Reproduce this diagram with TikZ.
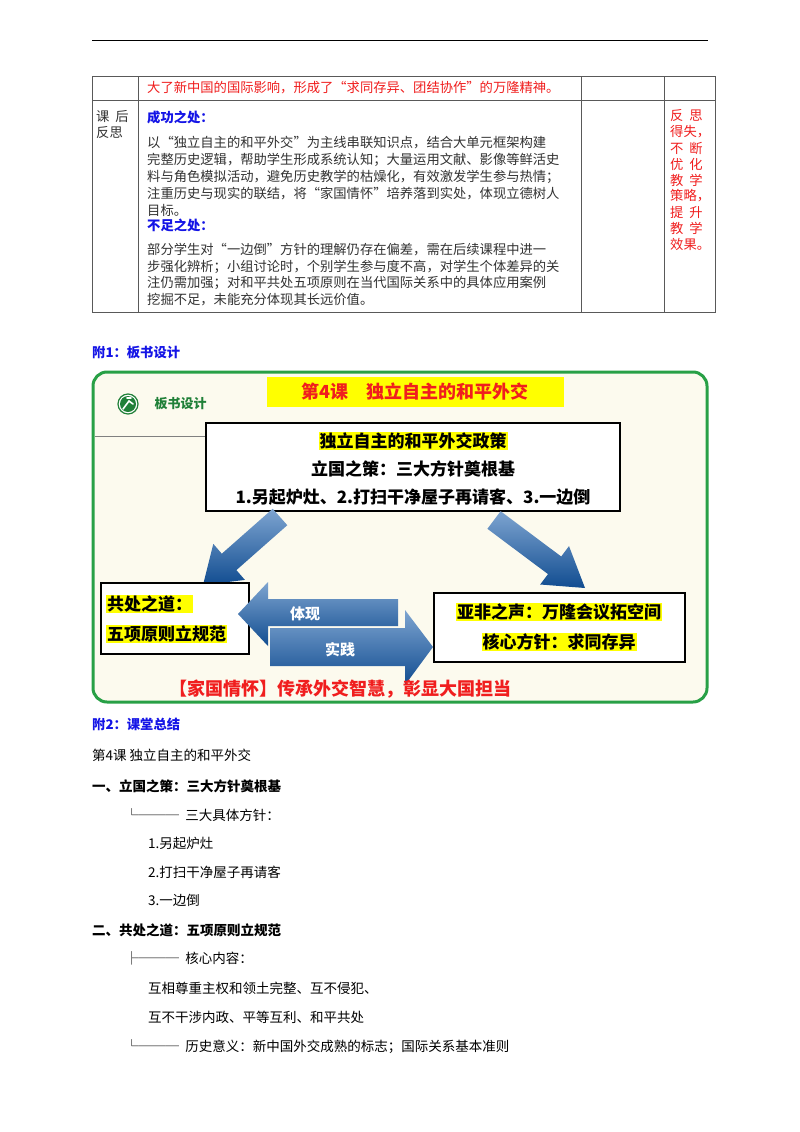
\documentclass[tikz,border=0pt]{standalone}
\usepackage{fontspec}
\setmainfont{Noto Sans CJK SC}
\definecolor{rd}{RGB}{240,30,30}
\definecolor{bl}{RGB}{20,20,230}
\definecolor{tx}{RGB}{50,50,50}
\definecolor{cream}{RGB}{252,250,238}
\definecolor{frm}{RGB}{40,160,70}
\definecolor{ab}{RGB}{20,90,170}
\definecolor{yl}{RGB}{255,255,0}
\tikzset{
 t/.style={anchor=west,inner sep=0,font=\fontsize{13.3}{15}\selectfont,text=tx},
 h/.style={anchor=west,inner sep=0,font=\fontsize{13.3}{15}\selectfont\bfseries,text=bl},
 r/.style={anchor=west,inner sep=0,font=\fontsize{13.3}{15}\selectfont,text=rd},
 b/.style={anchor=center,inner sep=1pt,font=\fontsize{17}{19}\selectfont\bfseries,text=black},
 bx/.style={draw=black,line width=1.8pt,fill=white},
 s/.style={anchor=west,inner sep=0,font=\fontsize{13.5}{15}\selectfont,text=black},
 sb/.style={anchor=west,inner sep=0,font=\fontsize{13.5}{15}\selectfont\bfseries,text=black},
 arw/.style={top color=ab!55!white,bottom color=ab!85!black},
}
\begin{document}
\begin{tikzpicture}[x=1pt,y=-1pt]
\useasboundingbox (0,0) rectangle (800,1132);
\fill[white] (0,0) rectangle (800,1132);
\draw[line width=0.8pt] (92,40) -- (708,40);
% table
\draw[gray!70!black,line width=0.6pt] (92,76) rectangle (715,312);
\draw[gray!70!black,line width=0.6pt] (92,100) -- (715,100);
\foreach \x in {138,581,664} \draw[gray!70!black,line width=0.6pt] (\x,76) -- (\x,312);
\node[r] (l0) at (147,88) {大了新中国的国际影响，形成了“求同存异、团结协作”的万隆精神。};
\node[t] (k1) at (96,117) {课\ \ 后};
\node[t] (k2) at (96,133) {反思};
\node[h] (cg) at (147,117) {成功之处：};
\node[t] (a1) at (147,143) {以“独立自主的和平外交”为主线串联知识点，结合大单元框架构建};
\node[t] (a2) at (147,160) {完整历史逻辑，帮助学生形成系统认知；大量运用文献、影像等鲜活史};
\node[t] (a3) at (147,177) {料与角色模拟活动，避免历史教学的枯燥化，有效激发学生参与热情；};
\node[t] (a4) at (147,194) {注重历史与现实的联结，将“家国情怀”培养落到实处，体现立德树人};
\node[t] (a5) at (147,210) {目标。};
\node[h] (bz) at (147,225) {不足之处：};
\node[t] (c1) at (147,250) {部分学生对“一边倒”方针的理解仍存在偏差，需在后续课程中进一};
\node[t] (c2) at (147,267) {步强化辨析；小组讨论时，个别学生参与度不高，对学生个体差异的关};
\node[t] (c3) at (147,283) {注仍需加强；对和平共处五项原则在当代国际关系中的具体应用案例};
\node[t] (c4) at (147,300) {挖掘不足，未能充分体现其长远价值。};
\foreach \s [count=\i] in {反\ \ 思,得失，,不\ \ 断,优\ \ 化,教\ \ 学,策略，,提\ \ 升,教\ \ 学,效果。}
  \node[r] (rr\i) at (670,100+16*\i) {\s};
% section 1
\node[h] (f1) at (92,352) {附1：板书设计};
\draw[frm,line width=3pt,fill=cream,rounded corners=14pt] (93,372) rectangle (707,702);
\fill[yl] (267,377) rectangle (564,407);
\node[font=\fontsize{18}{20}\selectfont\bfseries,text=rd] (tt) at (415,392) {第4课\quad 独立自主的和平外交};
\draw[frm!80!black,line width=1.2pt,fill=white] (128,404) circle (10);
\fill[frm!80!black] (128,404) circle (8);
\draw[white,line width=1.6pt,line cap=round] (123,409) -- (129,401) -- (133,404) (127,398) -- (131,398);
\node[anchor=west,text=frm!80!black,font=\fontsize{13}{15}\selectfont\bfseries] (bs) at (151,404) {板书设计};
\draw[gray,line width=1pt] (95,436) -- (205,436);
\draw[bx] (206,423) rectangle (620,511);
\node[b,fill=yl] (m1) at (413,441) {独立自主的和平外交政策};
\node[b] (m2) at (413,469) {立国之策：三大方针奠根基};
\node[b] (m3) at (413,497) {1.另起炉灶、2.打扫干净屋子再请客、3.一边倒};
% diagonal arrows
\shade[arw] (272.7,508.8) -- (221.8,553.7) -- (213.3,543.9) -- (203,585) -- (244.9,579.9) -- (236.4,570.1) -- (287.3,525.2) -- cycle;
\shade[arw] (487.4,528.8) -- (548,574.1) -- (540.2,584.5) -- (585,588) -- (569,546.1) -- (561.2,556.5) -- (500.6,511.2) -- cycle;
\draw[bx] (101,583) rectangle (249,654);
\node[b,fill=yl,anchor=west] (L1) at (106,604) {共处之道：};
\node[b,fill=yl,anchor=west] (L2) at (106,634) {五项原则立规范};
\draw[bx] (434,593) rectangle (685,662);
\node[b,fill=yl] (R1) at (559,612) {亚非之声：万隆会议拓空间};
\node[b,fill=yl] (R2) at (559,642) {核心方针：求同存异};
% horizontal arrows
\shade[arw] (398,599) -- (398,626) -- (268,626) -- (268,646) -- (238,614) -- (268,582) -- (268,599) -- cycle;
\node[text=white,font=\fontsize{15}{17}\selectfont\bfseries] (tx1) at (305,614) {体现};
\shade[arw] (270,628) -- (405,628) -- (405,610) -- (433,647) -- (405,685) -- (405,666) -- (270,666) -- cycle;
\node[text=white,font=\fontsize{15}{17}\selectfont\bfseries] (tx2) at (340,650) {实践};
\node[text=rd,font=\fontsize{18}{20}\selectfont\bfseries] (bot) at (340,689) {【家国情怀】传承外交智慧，彰显大国担当};
% section 2
\node[h] (f2) at (92,724) {附2：课堂总结};
\node[s] (s0) at (92,755) {第4课\ 独立自主的和平外交};
\node[sb] (s1) at (92,786) {一、立国之策：三大方针奠根基};
\node[s] (s2) at (125,815) {└─── \ 三大具体方针：};
\node[s] (s3) at (148,843) {1.另起炉灶};
\node[s] (s4) at (148,872) {2.打扫干净屋子再请客};
\node[s] (s5) at (148,900) {3.一边倒};
\node[sb] (s6) at (92,930) {二、共处之道：五项原则立规范};
\node[s] (s7) at (125,958) {├─── \ 核心内容：};
\node[s] (s8) at (148,988) {互相尊重主权和领土完整、互不侵犯、};
\node[s] (s9) at (148,1017) {互不干涉内政、平等互利、和平共处};
\node[s] (s10) at (125,1047) {└─── \ 历史意义：新中国外交成熟的标志；国际关系基本准则};
\end{tikzpicture}
\end{document}
